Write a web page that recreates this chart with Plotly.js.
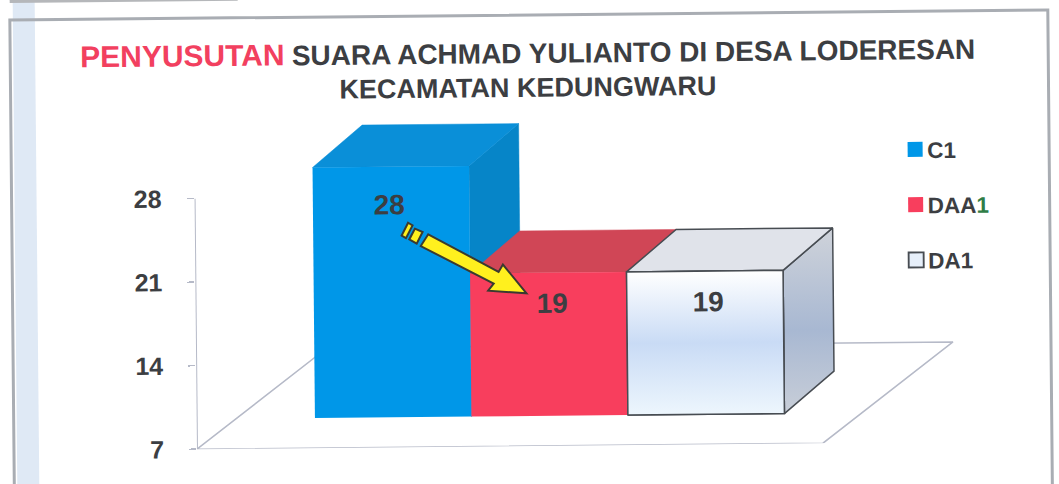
<!DOCTYPE html>
<html>
<head>
<meta charset="utf-8">
<script src="https://cdn.plot.ly/plotly-3.0.1.min.js"></script>
<style>
html,body{margin:0;padding:0;width:1059px;height:484px;overflow:hidden;background:#fff}
#chart{position:absolute;left:-20px;top:-20px;width:1099px;height:524px;transform-origin:549.5px 262px;transform:rotate(-0.55deg)}
</style>
</head>
<body>
<div id="chart"></div>
<script>
// ---- data ----
const categories = ['C1', 'DAA1', 'DA1'];
const legendNames = ['C1', 'DAA<span style="color:#2f7d46">1</span>', 'DA1'];
const values = [28, 19, 19];
const tickValues = [7, 14, 21, 28];
const faceColors = ['#0097e8', '#f83e5d', '#e6effa'];
const topColors = ['#0a8fd8', '#d04656', '#e0e3ea'];
const sideColors = ['#0685c8', '#c83a50', '#b4bdcc'];
const edgeColors = [null, null, '#474c52'];

// ---- geometry of the fake 3D drawing ----
const PAD = 20, W = 1099, H = 524;
const m = {l: 195 + PAD, r: W - (960 + PAD), t: 100 + PAD, b: H - (446 + PAD)};
const plotW = W - m.l - m.r, plotH = H - m.t - m.b;
const pxPerCat = 156.5, pxPerUnit = 11.93;
const catZeroPx = 391.5;               // centre of first bar
const xMin = (195 - catZeroPx) / pxPerCat, xMax = (960 - catZeroPx) / pxPerCat;
const yFloor = 7, yMax = yFloor + plotH / pxPerUnit;
const lift = 30 / pxPerUnit;           // bars stand further back on the floor
const depthX = 50 / pxPerCat, depthY = 42 / pxPerUnit;
const floorFrontRight = (821 - catZeroPx) / pxPerCat;
const floorDX = 131 / pxPerCat, floorDY = 100 / pxPerUnit;
const axisColor = '#b6bac8';
const inkColor = '#3c3e42';

const px = (x) => (x + PAD - m.l) / plotW;
const py = (y) => 1 - (y + PAD - m.t) / plotH;
const poly = (pts) => 'M' + pts.map(p => px(p[0]).toFixed(5) + ',' + py(p[1]).toFixed(5)).join('L') + 'Z';

const traces = [];

// floor and value axis (bottom layer)
traces.push({type:'scatter', mode:'lines', xaxis:'x', yaxis:'y', showlegend:false, hoverinfo:'skip',
  x:[xMin, floorFrontRight, floorFrontRight + floorDX, xMin + floorDX, xMin],
  y:[yFloor, yFloor, yFloor + floorDY, yFloor + floorDY, yFloor],
  line:{color:axisColor, width:1.5}});
traces.push({type:'scatter', mode:'lines', xaxis:'x', yaxis:'y', showlegend:false, hoverinfo:'skip',
  x:[xMin, xMin], y:[tickValues[0], tickValues[tickValues.length-1]],
  line:{color:axisColor, width:2}});

// side and top faces, left to right
values.forEach((v, i) => {
  const x0 = i - 0.5, x1 = i + 0.5, b = yFloor + lift, t = v + lift;
  const edge = edgeColors[i];
  const side = {type:'scatter', mode:'lines', xaxis:'x', yaxis:'y', showlegend:false, hoverinfo:'skip', fill:'toself',
    x:[x1, x1 + depthX, x1 + depthX, x1, x1],
    y:[b, b + depthY, t + depthY, t, b],
    fillcolor:sideColors[i], line:{color: edge || sideColors[i], width: edge ? 1.5 : 0.5}};
  if (i === 2) side.fillgradient = {type:'vertical', colorscale:[[0,'#c8ced8'],[0.45,'#a8b8d2'],[1,'#cfd3da']]};
  traces.push(side);
  traces.push({type:'scatter', mode:'lines', xaxis:'x', yaxis:'y', showlegend:false, hoverinfo:'skip', fill:'toself',
    x:[x0, x0 + depthX, x1 + depthX, x1, x0],
    y:[t, t + depthY, t + depthY, t, t],
    fillcolor:topColors[i], line:{color: edge || topColors[i], width: edge ? 1.5 : 0.5}});
});

// the bars themselves, on an overlaid axis shifted by the lift
categories.forEach((c, i) => {
  traces.push({type:'bar', name:legendNames[i], xaxis:'x', yaxis:'y2', x:[i], y:[values[i] - yFloor], base:[yFloor], width:[1],
    legendgroup:c, hoverinfo:'skip',
    marker:{color:faceColors[i], line:{color: edgeColors[i] || faceColors[i], width: edgeColors[i] ? 1.5 : 0}}});
});
// gradient on the white front face
traces.push({type:'scatter', mode:'lines', xaxis:'x', yaxis:'y2', showlegend:false, hoverinfo:'skip', fill:'toself',
  x:[1.5, 2.5, 2.5, 1.5, 1.5], y:[yFloor, yFloor, values[2], values[2], yFloor],
  fillcolor:faceColors[2],
  fillgradient:{type:'vertical', colorscale:[[0,'#edf6fd'],[0.5,'#c9dbf5'],[1,'#ffffff']]},
  line:{color:edgeColors[2], width:1.5}});

const labelFont = {family:'"Liberation Sans", Arial, sans-serif', size:28, color:inkColor, weight:700};
const labelOffsets = [[-0.01, 3.2], [0.02, 2.6], [0.02, 2.6]];
const annotations = values.map((v, i) => ({
  xref:'x', yref:'y2', x:i + labelOffsets[i][0], y:v - labelOffsets[i][1], text:String(v),
  showarrow:false, font:labelFont, xanchor:'center', yanchor:'middle'}));

const arrowFill = '#fff01e', arrowEdge = '#3a3a30';
const arrowStyle = {type:'path', xref:'paper', yref:'paper', layer:'above', fillcolor:arrowFill, line:{color:arrowEdge, width:2}};
const shapes = [
  {type:'rect', xref:'paper', yref:'paper', layer:'below', x0:px(15), x1:px(37), y0:py(-20), y1:py(510), fillcolor:'#dfe9f5', line:{width:0}},
  {type:'rect', xref:'paper', yref:'paper', layer:'below', x0:px(12), x1:px(1050), y0:py(15), y1:py(510), fillcolor:'rgba(0,0,0,0)', line:{color:'#a9adb3', width:3}},
  {type:'rect', xref:'paper', yref:'paper', layer:'below', x0:px(12), x1:px(240), y0:py(-6), y1:py(-2), fillcolor:'#b5b7ba', line:{width:0}},
  Object.assign({}, arrowStyle, {path:poly([[428.3,233.3],[498.3,271.6],[502.7,264.3],[526,293.3],[487.7,290.3],[493.3,283.3],[420.7,245]])}),
  Object.assign({}, arrowStyle, {path:poly([[415,227.6],[422.7,231],[416.7,242.6],[409.3,238.3]])}),
  Object.assign({}, arrowStyle, {path:poly([[408.3,221.6],[412.7,224.3],[406,237],[401.7,234.3]])})
];

const titleText =
  '<span style="color:#f2405f;font-size:30px">PENYUSUTAN</span> <span style="font-size:28px">SUARA ACHMAD YULIANTO DI DESA LODERESAN</span>' +
  '<br><span style="font-size:27px">KECAMATAN KEDUNGWARU</span>';

const layout = {
  width:W, height:H, margin:m, showlegend:true, barmode:'overlay',
  paper_bgcolor:'#ffffff', plot_bgcolor:'rgba(0,0,0,0)',
  font:{family:'"Liberation Sans", Arial, sans-serif', color:inkColor},
  title:{text:titleText, xref:'container', yref:'container', x:0.5, xanchor:'center', y:1-(PAD+63)/H, yanchor:'top',
    pad:{t:0,b:0,l:0,r:0}, font:{family:'"Liberation Sans", Arial, sans-serif', size:26, weight:700, color:inkColor}},
  xaxis:{visible:false, range:[xMin, xMax], fixedrange:true},
  yaxis:{range:[yFloor, yMax], tickmode:'array', tickvals:tickValues, ticktext:tickValues.map(String),
    showgrid:false, zeroline:false, showline:false, ticks:'outside', ticklen:7, tickwidth:1.5, tickcolor:axisColor,
    ticklabelstandoff:20, tickfont:{family:'"Liberation Sans", Arial, sans-serif', size:25, weight:700, color:inkColor}, fixedrange:true},
  yaxis2:{overlaying:'y', visible:false, range:[yFloor - lift, yMax - lift], fixedrange:true},
  legend:{x:px(888), xanchor:'left', y:py(132), yanchor:'top', bgcolor:'rgba(0,0,0,0)', borderwidth:0,
    tracegroupgap:23, itemwidth:30, traceorder:'grouped', itemclick:false, itemdoubleclick:false,
    font:{family:'"Liberation Sans", Arial, sans-serif', size:22.5, weight:700, color:inkColor}},
  shapes:shapes, annotations:annotations
};
Plotly.newPlot('chart', traces, layout, {displayModeBar:false, staticPlot:true}).then(() => {
  // nudge and enlarge the legend swatches to sit tight against their labels
  document.querySelectorAll('#chart .legend .legendpoints path').forEach(p => {
    const t = p.getAttribute('transform') || '';
    p.setAttribute('transform', t + ' translate(8,0) scale(1.25)');
  });
});
</script>
</body>
</html>
